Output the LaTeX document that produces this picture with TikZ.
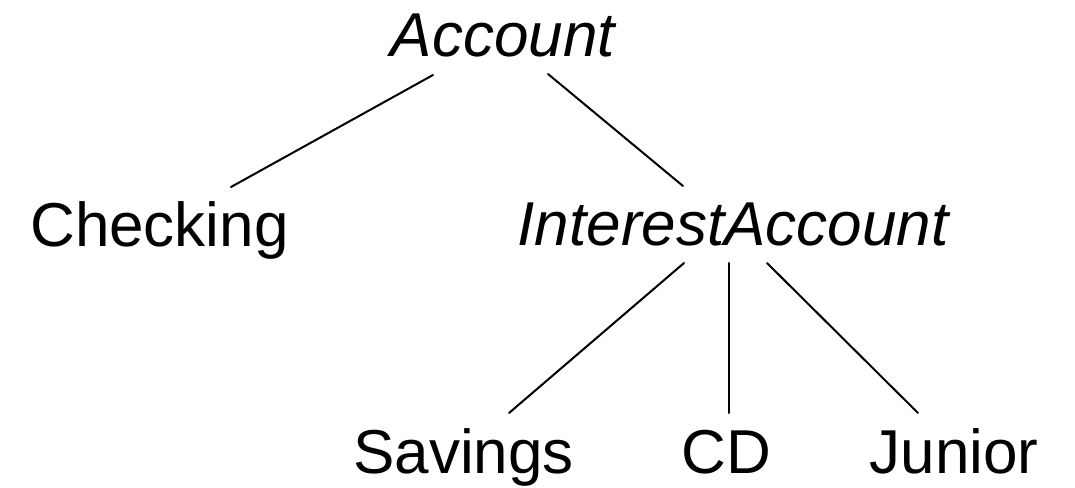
\documentclass[tikz,border=0pt]{standalone}
\usepackage{fontspec}
\setmainfont{Liberation Sans}
\usetikzlibrary{calc}
\tikzset{
  cls/.style={inner sep=0pt, outer sep=0pt, anchor=base, font=\fontsize{62}{74}\selectfont},
  abs/.style={cls, font=\fontsize{62}{74}\selectfont\itshape},
  link/.style={line width=2pt, line cap=round}
}
\begin{document}
\begin{tikzpicture}[x=1pt,y=1pt]
\useasboundingbox (0,0) rectangle (1075,487);
\node[abs] (acc) at (503,430) {Account};
\node[cls] (chk) at (159.5,240) {Checking};
\node[abs] (int) at (733,241) {InterestAccount};
\node[cls] (sav) at (463.5,14) {Savings};
\node[cls] (cd) at (726.5,14) {CD};
\node[cls] (jun) at (954,14) {Junior};
\draw[link] ($(acc.base)+(-70,-18)$) -- ($(chk.base)+(71.5,60)$);
\draw[link] ($(acc.base)+(45,-17)$) -- ($(int.base)+(-50,60)$);
\draw[link] ($(int.base)+(-49,-17)$) -- ($(sav.base)+(45.5,60)$);
\draw[link] ($(int.base)+(-4,-17)$) -- ($(cd.base)+(2.5,60)$);
\draw[link] ($(int.base)+(34,-17)$) -- ($(jun.base)+(-36,60)$);
\end{tikzpicture}
\end{document}
